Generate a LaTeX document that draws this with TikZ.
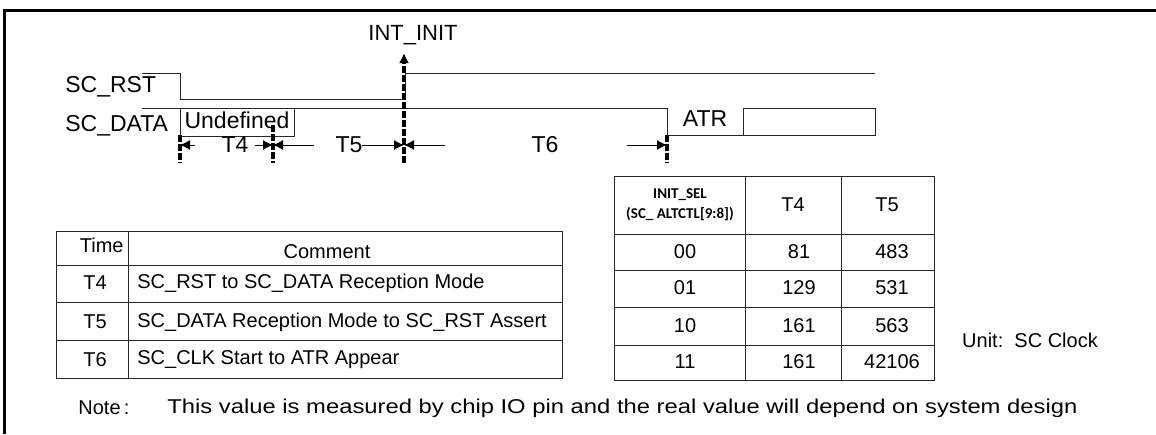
\documentclass[tikz,border=0pt]{standalone}
\usepackage{fontspec}
\usepackage{graphicx}
\setmainfont{Liberation Sans}
\newfontfamily\selfont{Carlito}
\usetikzlibrary{arrows.meta,calc}

\begin{document}
\begin{tikzpicture}[
    x=0.5pt, y=-0.5pt,
    sig/.style={line width=0.5pt, black!85},
    edgemark/.style={line width=1.6pt, dash pattern=on 3.5pt off 1pt, black},
    dimarr/.style={-{Latex[length=5pt,width=5pt]}, line width=0.5pt},
    lbl/.style={font=\fontsize{11.5}{13}\selectfont, inner sep=1pt},
    cell/.style={font=\fontsize{10}{12}\selectfont, inner sep=1pt},
    grid/.style={line width=0.5pt, black!85}
  ]
  \useasboundingbox (0,0) rectangle (1156,434);
  \draw[line width=1.5pt] (4,434) -- (4,10) -- (1156,10);

  % waveforms
  \node[lbl, anchor=west] (rst) at (63,87) {SC\_RST};
  \node[lbl, anchor=west] (data) at (63,126) {SC\_DATA};
  \node[lbl, font=\fontsize{11}{13}\selectfont] (init) at (413,35) {INT\_INIT};
  \draw[sig] (142,73) -- (180,73) -- (180,99) -- (405,99) -- (405,73) -- (875,73);
  \draw[sig] (142,108) -- (667,108) -- (667,135) -- (875,135);
  \draw[sig] (180,108) rectangle (294,136);
  \node[lbl] (undef) at (237,120) {Undefined};
  \draw[sig] (743,108) rectangle (875,135);
  \node[lbl] (atr) at (705,119) {ATR};

  % timing marks
  \coordinate (m1) at (180,145);
  \coordinate (m2) at (273,145);
  \coordinate (m3) at (404,145);
  \coordinate (m4) at (667,145);
  \coordinate (tip) at (404,53);
  \draw[edgemark] (180,135) -- (180,163);
  \draw[edgemark] (273,125) -- (273,163);
  \draw[edgemark, -{Latex[length=5pt,width=5pt]}] (404,163) -- (tip);
  \draw[edgemark] (667,135) -- (667,163);
  \node[lbl] (t4) at (235,145) {T4};
  \node[lbl] (t5) at (349,145) {T5};
  \node[lbl] (t6) at (545,145) {T6};
  \draw[dimarr] (195,145) -- (m1);
  \draw[dimarr] (255,145) -- (m2);
  \draw[dimarr] (314,145) -- (m2);
  \draw[dimarr] (362,145) -- (m3);
  \draw[dimarr] (445,145) -- (m3);
  \draw[dimarr] (627,145) -- (m4);

  % comment table
  \draw[grid] (56,231) rectangle (562,378);
  \foreach \y in {265,302,340} \draw[grid] (56,\y) -- (562,\y);
  \draw[grid] (128,231) -- (128,378);
  \node[cell, anchor=east] (hdtime) at (126,245) {Time};
  \node[cell] (hdcom) at (327,252) {Comment};
  \foreach \t/\c/\y in {T4/SC\_RST to SC\_DATA Reception Mode/283,
      T5/SC\_DATA Reception Mode to SC\_RST Assert/322,
      T6/SC\_CLK Start to ATR Appear/360} {
    \node[cell] (time-\t) at (95,\y) {\t};
    \node[cell, anchor=west] (com-\t) at (135,\y) {\c};
  }

  % value table
  \draw[grid] (614,176) rectangle (934,380);
  \foreach \y in {234,270,307,345} \draw[grid] (614,\y) -- (934,\y);
  \foreach \x in {745,841} \draw[grid] (\x,176) -- (\x,380);
  \node[align=center, font=\selfont\bfseries\fontsize{7.5}{10}\selectfont, inner sep=1pt] (hdsel) at (680,205) {INIT\_SEL\\(SC\_ ALTCTL[9:8])};
  \node[cell] (hdt4) at (793,205) {T4};
  \node[cell] (hdt5) at (887,205) {T5};
  \foreach \s/\a/\b/\y in {00/81/483/252, 01/129/531/288, 10/161/563/326, 11/161/42106/362} {
    \node[cell] (sel-\s) at (685,\y) {\s};
    \node[cell] (va-\s) at (799,\y) {\a};
    \node[cell] (vb-\s) at (892,\y) {\b};
  }
  \node[cell] (unit) at (1030,340) {Unit:\ \ SC Clock};

  % note
  \node[cell, anchor=west] (note) at (76,408) {Note\,:};
  \node[cell, anchor=west] (notetxt) at (165,408) {\resizebox{455pt}{\height}{This value is measured by chip IO pin and the real value will depend on system design}};
\end{tikzpicture}
\end{document}
